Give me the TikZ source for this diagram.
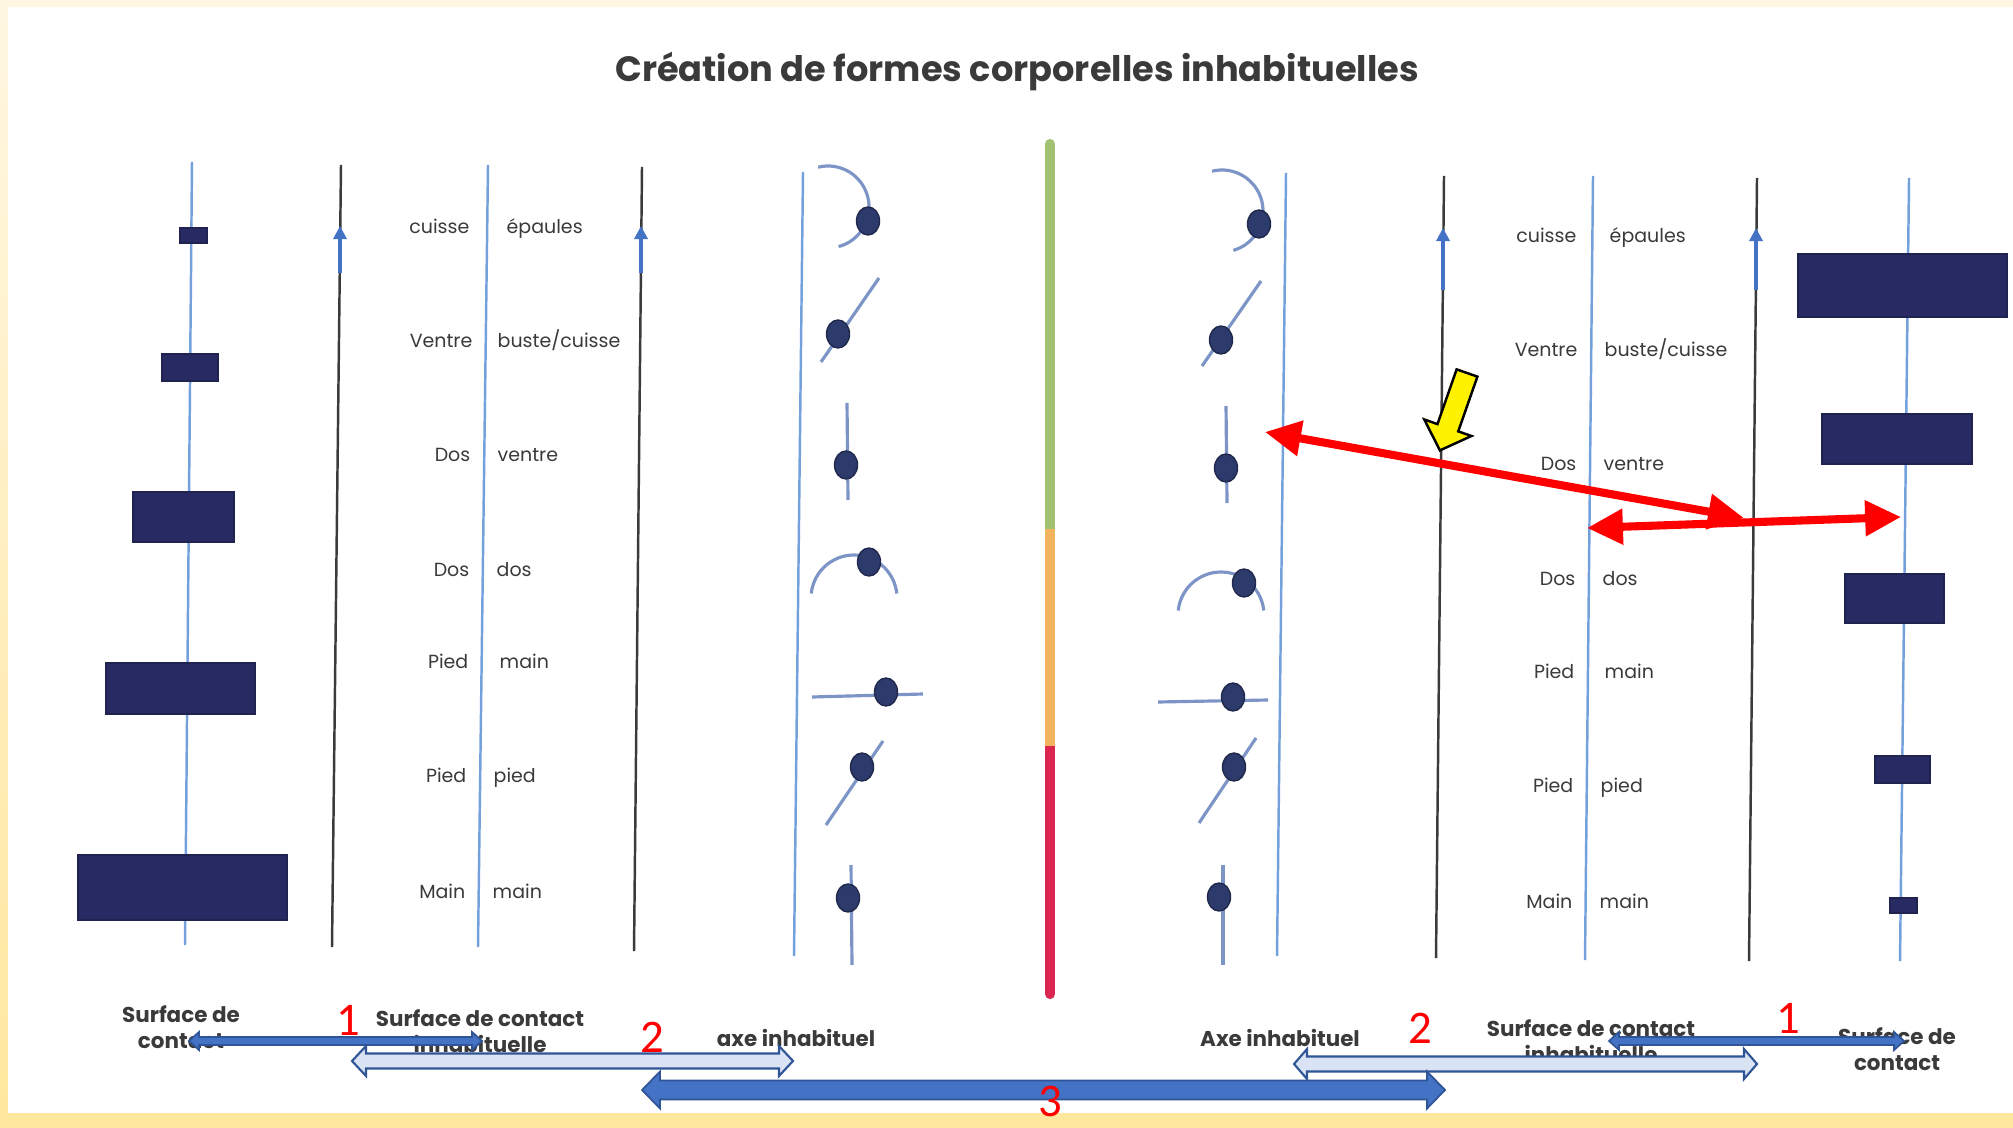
\documentclass[tikz,border=0pt]{standalone}
\usepackage{fontspec}
\setmainfont{Poppins}
\newfontfamily\digitfont{Carlito}
\usetikzlibrary{calc,shapes.geometric,arrows.meta}
\definecolor{frametop}{HTML}{FFF7E2}
\definecolor{framebot}{HTML}{FFE79D}
\definecolor{axisblue}{HTML}{74A0DC}
\definecolor{rulegray}{HTML}{3B3B3B}
\definecolor{arrowblue}{HTML}{4472C4}
\definecolor{edgeblue}{HTML}{2F5597}
\definecolor{paleblue}{HTML}{DAE3F3}
\definecolor{slabnavy}{HTML}{282B63}
\definecolor{limbblue}{HTML}{7D95C6}
\definecolor{jointnavy}{HTML}{2D3A6C}
\definecolor{inkgray}{HTML}{3A3A3A}
\definecolor{bargreen}{HTML}{A2C171}
\definecolor{barorange}{HTML}{F3B45F}
\definecolor{barred}{HTML}{DA2650}
\newcommand\blockarrow[6]{%
  \draw[#1] (#2) -- ($(#2)+(#6,-#5)$) -- ($(#2)+(#6,-#4)$) -- ($(#3)+(-#6,-#4)$)
    -- ($(#3)+(-#6,-#5)$) -- (#3) -- ($(#3)+(-#6,#5)$) -- ($(#3)+(-#6,#4)$)
    -- ($(#2)+(#6,#4)$) -- ($(#2)+(#6,#5)$) -- cycle;}
\begin{document}
\begin{tikzpicture}[x=0.01cm, y=-0.01cm,
    axis/.style={draw=axisblue, line width=0.7pt},
    rule/.style={draw=rulegray, line width=0.7pt},
    riser/.style={draw=arrowblue, line width=0.9pt, -{Triangle[length=3.7pt, width=3.7pt]}},
    slab/.style={rectangle, fill=slabnavy, draw=slabnavy!80!black, line width=0.4pt, inner sep=0},
    limb/.style={draw=limbblue, line width=0.9pt},
    joint/.style={ellipse, fill=jointnavy, draw=jointnavy!70!black, line width=0.4pt,
      minimum width=0.23cm, minimum height=0.28cm, inner sep=0},
    part/.style={text=inkgray, font=\fontsize{5.4}{7}\selectfont, inner sep=0},
    caption/.style={text=inkgray, font=\bfseries\fontsize{6.1}{7.4}\selectfont, align=center, inner sep=0},
    num/.style={text=red, font=\digitfont\fontsize{13.3}{15}\selectfont, inner sep=0, anchor=base},
    flat/.style={fill=arrowblue, draw=edgeblue, line width=0.5pt},
    hollow/.style={fill=paleblue, draw=edgeblue, line width=0.6pt},
    redarrow/.style={draw=red, line width=2.3pt,
      {Triangle[length=10.2pt, width=9.7pt]}-{Triangle[length=10.2pt, width=9.7pt]}},
    pointer/.style={fill=yellow, draw=black, line width=0.7pt}]
  \useasboundingbox (0,0) rectangle (2013,1128);
  \fill[top color=frametop, bottom color=framebot] (0,0) rectangle (2013,1128);
  \fill[white] (8,7) rectangle (2013,1113);

  \node[text=inkgray, font=\bfseries\fontsize{10}{12}\selectfont, anchor=base] (title) at (1017,82)
    {Création de formes corporelles inhabituelles};

  % contact surfaces
  \draw[axis] (192,162) -- (185,945);
  \draw[axis] (1909,178) -- (1900,961);
  \node[slab, minimum width=0.27cm, minimum height=0.15cm] (s1) at (193.5,235.5) {};
  \node[slab, minimum width=0.56cm, minimum height=0.27cm] (s2) at (190,367.5) {};
  \node[slab, minimum width=1.01cm, minimum height=0.50cm] (s3) at (183.5,517) {};
  \node[slab, minimum width=1.49cm, minimum height=0.51cm] (s4) at (180.5,688.5) {};
  \node[slab, minimum width=2.09cm, minimum height=0.65cm] (s5) at (182.5,887.5) {};
  \node[slab, minimum width=2.09cm, minimum height=0.63cm] (t1) at (1902.5,285.5) {};
  \node[slab, minimum width=1.50cm, minimum height=0.50cm] (t2) at (1897,439) {};
  \node[slab, minimum width=0.99cm, minimum height=0.49cm] (t3) at (1894.5,598.5) {};
  \node[slab, minimum width=0.55cm, minimum height=0.27cm] (t4) at (1902.5,769.5) {};
  \node[slab, minimum width=0.27cm, minimum height=0.15cm] (t5) at (1903.5,905.5) {};

  % unusual contact surfaces
  \draw[rule] (341,165) -- (332,947);
  \draw[rule] (642,167) -- (634,951);
  \draw[axis] (488,165) -- (478,947);
  \coordinate (u1) at (340,273); \coordinate (u1t) at (340,226);
  \coordinate (u2) at (641,273); \coordinate (u2t) at (641,226);
  \draw[riser] (u1) -- (u1t);
  \draw[riser] (u2) -- (u2t);
  \node[part, anchor=mid east] (gl1) at (470,224) {cuisse};
  \node[part, anchor=mid west] (gr1) at (506,224) {épaules};
  \node[part, anchor=mid east] (gl2) at (473,338) {Ventre};
  \node[part, anchor=mid west] (gr2) at (497,338) {buste/cuisse};
  \node[part, anchor=mid east] (gl3) at (471,452) {Dos};
  \node[part, anchor=mid west] (gr3) at (497,452) {ventre};
  \node[part, anchor=mid east] (gl4) at (470,567) {Dos};
  \node[part, anchor=mid west] (gr4) at (496,567) {dos};
  \node[part, anchor=mid east] (gl5) at (469,659) {Pied};
  \node[part, anchor=mid west] (gr5) at (499,659) {main};
  \node[part, anchor=mid east] (gl6) at (467,773) {Pied};
  \node[part, anchor=mid west] (gr6) at (493,773) {pied};
  \node[part, anchor=mid east] (gl7) at (466,889) {Main};
  \node[part, anchor=mid west] (gr7) at (492,889) {main};

  \draw[rule] (1444,176) -- (1436,958);
  \draw[rule] (1757,178) -- (1749,961);
  \draw[axis] (1593,176) -- (1585,960);
  \coordinate (u3) at (1443,290); \coordinate (u3t) at (1443,228);
  \coordinate (u4) at (1756,290); \coordinate (u4t) at (1756,228);
  \draw[riser] (u3) -- (u3t);
  \draw[riser] (u4) -- (u4t);
  \node[part, anchor=mid east] (hl1) at (1577,233) {cuisse};
  \node[part, anchor=mid west] (hr1) at (1609,233) {épaules};
  \node[part, anchor=mid east] (hl2) at (1578,347) {Ventre};
  \node[part, anchor=mid west] (hr2) at (1604,347) {buste/cuisse};
  \node[part, anchor=mid east] (hl3) at (1577,461) {Dos};
  \node[part, anchor=mid west] (hr3) at (1603,461) {ventre};
  \node[part, anchor=mid east] (hl4) at (1576,576) {Dos};
  \node[part, anchor=mid west] (hr4) at (1602,576) {dos};
  \node[part, anchor=mid east] (hl5) at (1575,669) {Pied};
  \node[part, anchor=mid west] (hr5) at (1604,669) {main};
  \node[part, anchor=mid east] (hl6) at (1574,783) {Pied};
  \node[part, anchor=mid west] (hr6) at (1600,783) {pied};
  \node[part, anchor=mid east] (hl7) at (1573,899) {Main};
  \node[part, anchor=mid west] (hr7) at (1599,899) {main};

  % unusual axes
  \draw[axis] (803,172) -- (794,956);
  \draw[limb] (828,207) ++(256:41) arc[start angle=256, end angle=435, radius=41];
  \draw[limb] (879,278) -- (821,362);
  \draw[limb] (847,403) -- (848,500);
  \draw[limb] (854,598) ++(186:43) arc[start angle=186, end angle=354, radius=43];
  \draw[limb] (812,697) -- (923,694);
  \draw[limb] (883,741) -- (826,825);
  \draw[limb] (851,865) -- (852,965);
  \node[joint] (j1) at (868,221) {};
  \node[joint] (j2) at (838,334) {};
  \node[joint] (j3) at (846,465) {};
  \node[joint] (j4) at (869,562) {};
  \node[joint] (j5) at (886,692) {};
  \node[joint] (j6) at (862,767) {};
  \node[joint] (j7) at (848,898) {};

  \draw[axis] (1286,173) -- (1277,956);
  \draw[limb] (1222,211) ++(256:41) arc[start angle=256, end angle=434, radius=41];
  \draw[limb] (1261,281) -- (1202,366);
  \draw[limb] (1226,406) -- (1227,503);
  \draw[limb] (1221,615) ++(186:43) arc[start angle=186, end angle=354, radius=43];
  \draw[limb] (1158,702) -- (1268,700);
  \draw[limb] (1256,738) -- (1199,823);
  \draw[limb] (1223,865) -- (1223,965);
  \node[joint] (k1) at (1259,224) {};
  \node[joint] (k2) at (1221,340) {};
  \node[joint] (k3) at (1226,468) {};
  \node[joint] (k4) at (1244,583) {};
  \node[joint] (k5) at (1233,697) {};
  \node[joint] (k6) at (1234,767) {};
  \node[joint] (k7) at (1219,897) {};

  % colour scale
  \draw[bargreen, line width=2.9pt, line cap=round] (1050,144) -- (1050,529);
  \draw[barred, line width=2.9pt, line cap=round] (1050,746) -- (1050,994);
  \draw[barorange, line width=2.9pt] (1050,529) -- (1050,746);

  \node[caption] (c1) at (181,1027) {Surface de\\contact};
  \node[caption] (c2) at (480,1031) {Surface de contact\\inhabituelle};
  \node[caption] (c3) at (796,1038) {axe inhabituel};
  \node[caption] (c4) at (1280,1038) {Axe inhabituel};
  \node[caption] (c5) at (1591,1041) {Surface de contact\\inhabituelle};
  \node[caption] (c6) at (1897,1049) {Surface de\\contact};

  \coordinate (p1a) at (189,1041); \coordinate (p1b) at (482,1041);
  \coordinate (p2a) at (352,1061); \coordinate (p2b) at (793,1061);
  \coordinate (p3a) at (642,1090); \coordinate (p3b) at (1445,1090);
  \coordinate (q2a) at (1294,1064); \coordinate (q2b) at (1757,1064);
  \coordinate (q1a) at (1609,1041); \coordinate (q1b) at (1904,1041);
  \blockarrow{hollow}{p2a}{p2b}{7.5}{15}{14}
  \blockarrow{hollow}{q2a}{q2b}{7.5}{15}{13}
  \blockarrow{flat}{p3a}{p3b}{9.5}{18.5}{18}
  \blockarrow{flat}{p1a}{p1b}{4}{9}{10}
  \blockarrow{flat}{q1a}{q1b}{4}{9}{10}

  \node[num] (n1) at (348,1035) {1};
  \node[num] (n2) at (652,1052) {2};
  \node[num] (n3) at (1050,1116) {3};
  \node[num] (m2) at (1420,1043) {2};
  \node[num] (m1) at (1788,1033) {1};

  % highlighted links
  \coordinate (r1a) at (1265,432); \coordinate (r1b) at (1744,518);
  \coordinate (r2a) at (1587,528); \coordinate (r2b) at (1901,517);
  \draw[redarrow] (r1a) -- (r1b);
  \draw[redarrow] (r2a) -- (r2b);
  \coordinate (yt) at (1467,373);
  \draw[pointer, shift={(yt)}, rotate=250.7]
    (0,-11) -- (58,-11) -- (58,-25) -- (82,0) -- (58,25) -- (58,11) -- (0,11) -- cycle;
\end{tikzpicture}
\end{document}
